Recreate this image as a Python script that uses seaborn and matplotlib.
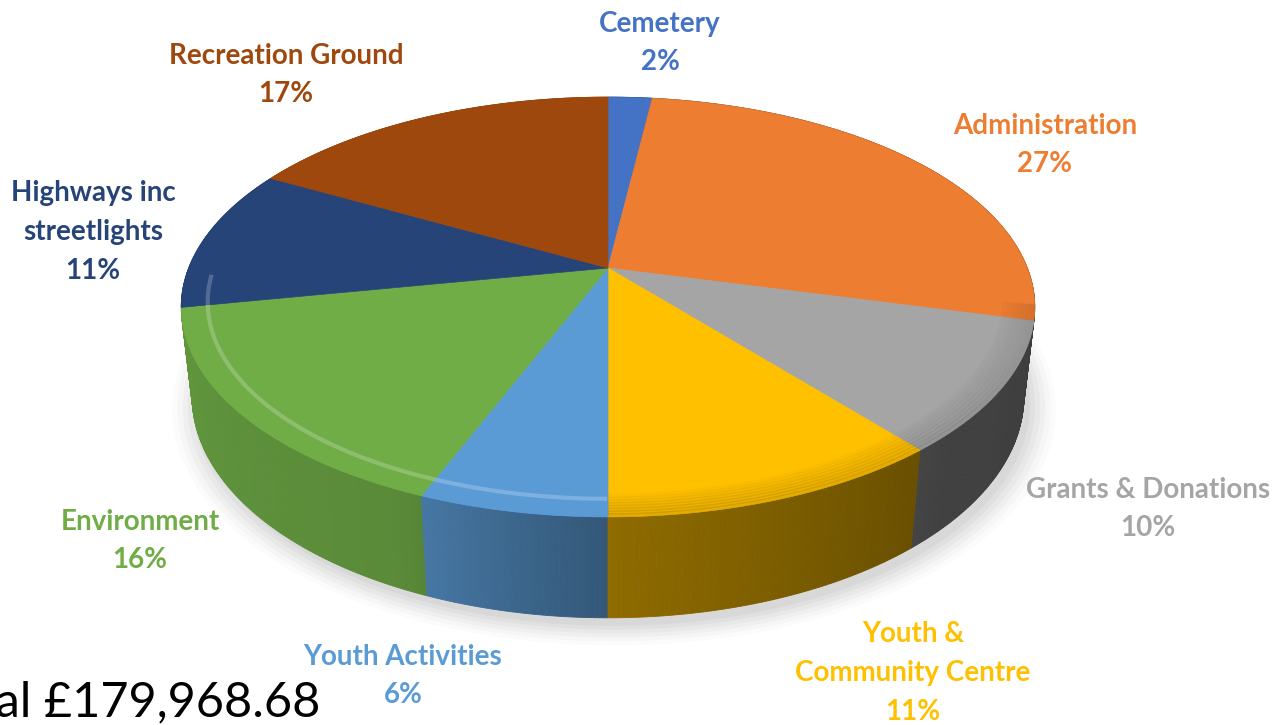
import numpy as np
import matplotlib.pyplot as plt
import matplotlib.colors as mcolors
import seaborn as sns

# ==========================================
# DATA
# ==========================================
categories = ["Cemetery", "Administration", "Grants & Donations",
              "Youth &\nCommunity Centre", "Youth Activities", "Environment",
              "Highways inc\nstreetlights", "Recreation Ground"]
shares = [2, 27, 10, 11, 6, 16, 11, 17]
slice_colors = ["#4472C4", "#ED7D31", "#A5A5A5", "#FFC000",
                "#5B9BD5", "#70AD47", "#264478", "#9E480E"]
total_text = "Total £179,968.68"

# label anchor (centre of text block), pixels
label_pos = [(660, 43), (1045, 145), (1148, 509), (913, 673),
             (403, 676), (140, 541), (93, 232), (286, 75)]

# ==========================================
# 3D PIE GEOMETRY (perspective camera)
# ==========================================
W, H = 1275, 725
CX, CY = 608, 268          # screen position of pie centre
ELEV = np.radians(28.9)
CAM_DIST = 4.71
FOCAL = 1975
DEPTH = 0.248
S, C = np.sin(ELEV), np.cos(ELEV)


def project(phi, z=0.0, r=1.0):
    """phi clockwise from the back of the pie, z up, r radius."""
    px = r * np.sin(phi)
    d = CAM_DIST + r * np.cos(phi) * C - z * S
    up = r * np.cos(phi) * S + z * C
    return CX + FOCAL * px / d, CY - FOCAL * up / d


def shade(phi_deg):
    return np.interp(phi_deg, [90, 135, 180, 205, 270, 300],
                     [0.37, 0.39, 0.56, 0.80, 0.88, 0.88])


def darker(col, k):
    rgb = np.array(mcolors.to_rgb(col))
    return tuple(np.clip(rgb * k, 0, 1))


def lighter(col, k):
    rgb = np.array(mcolors.to_rgb(col))
    return tuple(rgb + (1 - rgb) * k)


def draw_pie(ax):
    fr = np.array(shares, dtype=float) / sum(shares)
    bounds = np.concatenate([[0], np.cumsum(fr)]) * 2 * np.pi

    # soft shadow under the pie
    t = np.linspace(0, 2 * np.pi, 361)
    for k, a in zip(np.linspace(1.06, 1.0, 6), np.linspace(0.03, 0.08, 6)):
        sx, sy = project(t, -DEPTH, k)
        ax.fill(sx + 6, sy + 8, color="#808080", alpha=a, lw=0, zorder=1)

    # outer walls, painted back to front
    quads = []
    for i, col in enumerate(slice_colors):
        a0, a1 = bounds[i], bounds[i + 1]
        n = max(2, int(np.degrees(a1 - a0) / 0.5))
        ph = np.linspace(a0, a1, n + 1)
        for p0, p1 in zip(ph[:-1], ph[1:]):
            pm = 0.5 * (p0 + p1)
            quads.append((np.cos(pm), p0, p1, darker(col, shade(np.degrees(pm)))))
    quads.sort(key=lambda q: -q[0])
    for _, p0, p1, col in quads:
        x0, y0 = project(p0, 0)
        x1, y1 = project(p1, 0)
        x2, y2 = project(p1, -DEPTH)
        x3, y3 = project(p0, -DEPTH)
        ax.fill([x0, x1, x2, x3], [y0, y1, y2, y3], color=col, lw=0.6,
                ec=col, zorder=2)

    # top faces
    for i, col in enumerate(slice_colors):
        ph = np.linspace(bounds[i], bounds[i + 1], 200)
        x, y = project(ph, 0)
        ax.fill(np.r_[CX, x], np.r_[CY, y], color=col, lw=0.5, ec=col, zorder=3)

        # rounded-edge highlight / shadow on the rim
        deg = np.degrees(ph)
        if np.degrees(bounds[i]) >= 175:
            m = (deg > 180) & (deg < 268)
            if m.any():
                hx, hy = project(ph[m], 0, 0.94)
                ax.plot(hx, hy, color=lighter(col, 0.3), lw=3, alpha=0.7,
                        solid_capstyle="butt", zorder=4)
        else:
            m = (deg > 100) & (deg < 181)
            if m.any():
                for r, a in zip(np.linspace(0.93, 0.995, 8), np.linspace(0.02, 0.10, 8)):
                    bx, by = project(ph[m], 0, r)
                    ax.plot(bx, by, color="black", lw=3, alpha=a,
                            solid_capstyle="butt", zorder=4)


def main():
    sns.set_theme(style="white")
    plt.rcParams["font.family"] = ["Lato", "DejaVu Sans"]

    fig = plt.figure(figsize=(W / 100, H / 100), dpi=100)
    ax = fig.add_axes([0, 0, 1, 1])
    ax.set_xlim(0, W)
    ax.set_ylim(H, 0)
    ax.axis("off")

    draw_pie(ax)

    for name, val, col, (lx, ly) in zip(categories, shares, slice_colors, label_pos):
        ax.text(lx, ly, f"{name}\n{val}%", color=col, fontsize=20,
                fontweight="bold", ha="center", va="center",
                linespacing=1.6, zorder=5)

    ax.text(320, 702, total_text, color="black", fontsize=35,
            ha="right", va="center", zorder=5)

    fig.savefig("out.png", dpi=100)


if __name__ == "__main__":
    main()
